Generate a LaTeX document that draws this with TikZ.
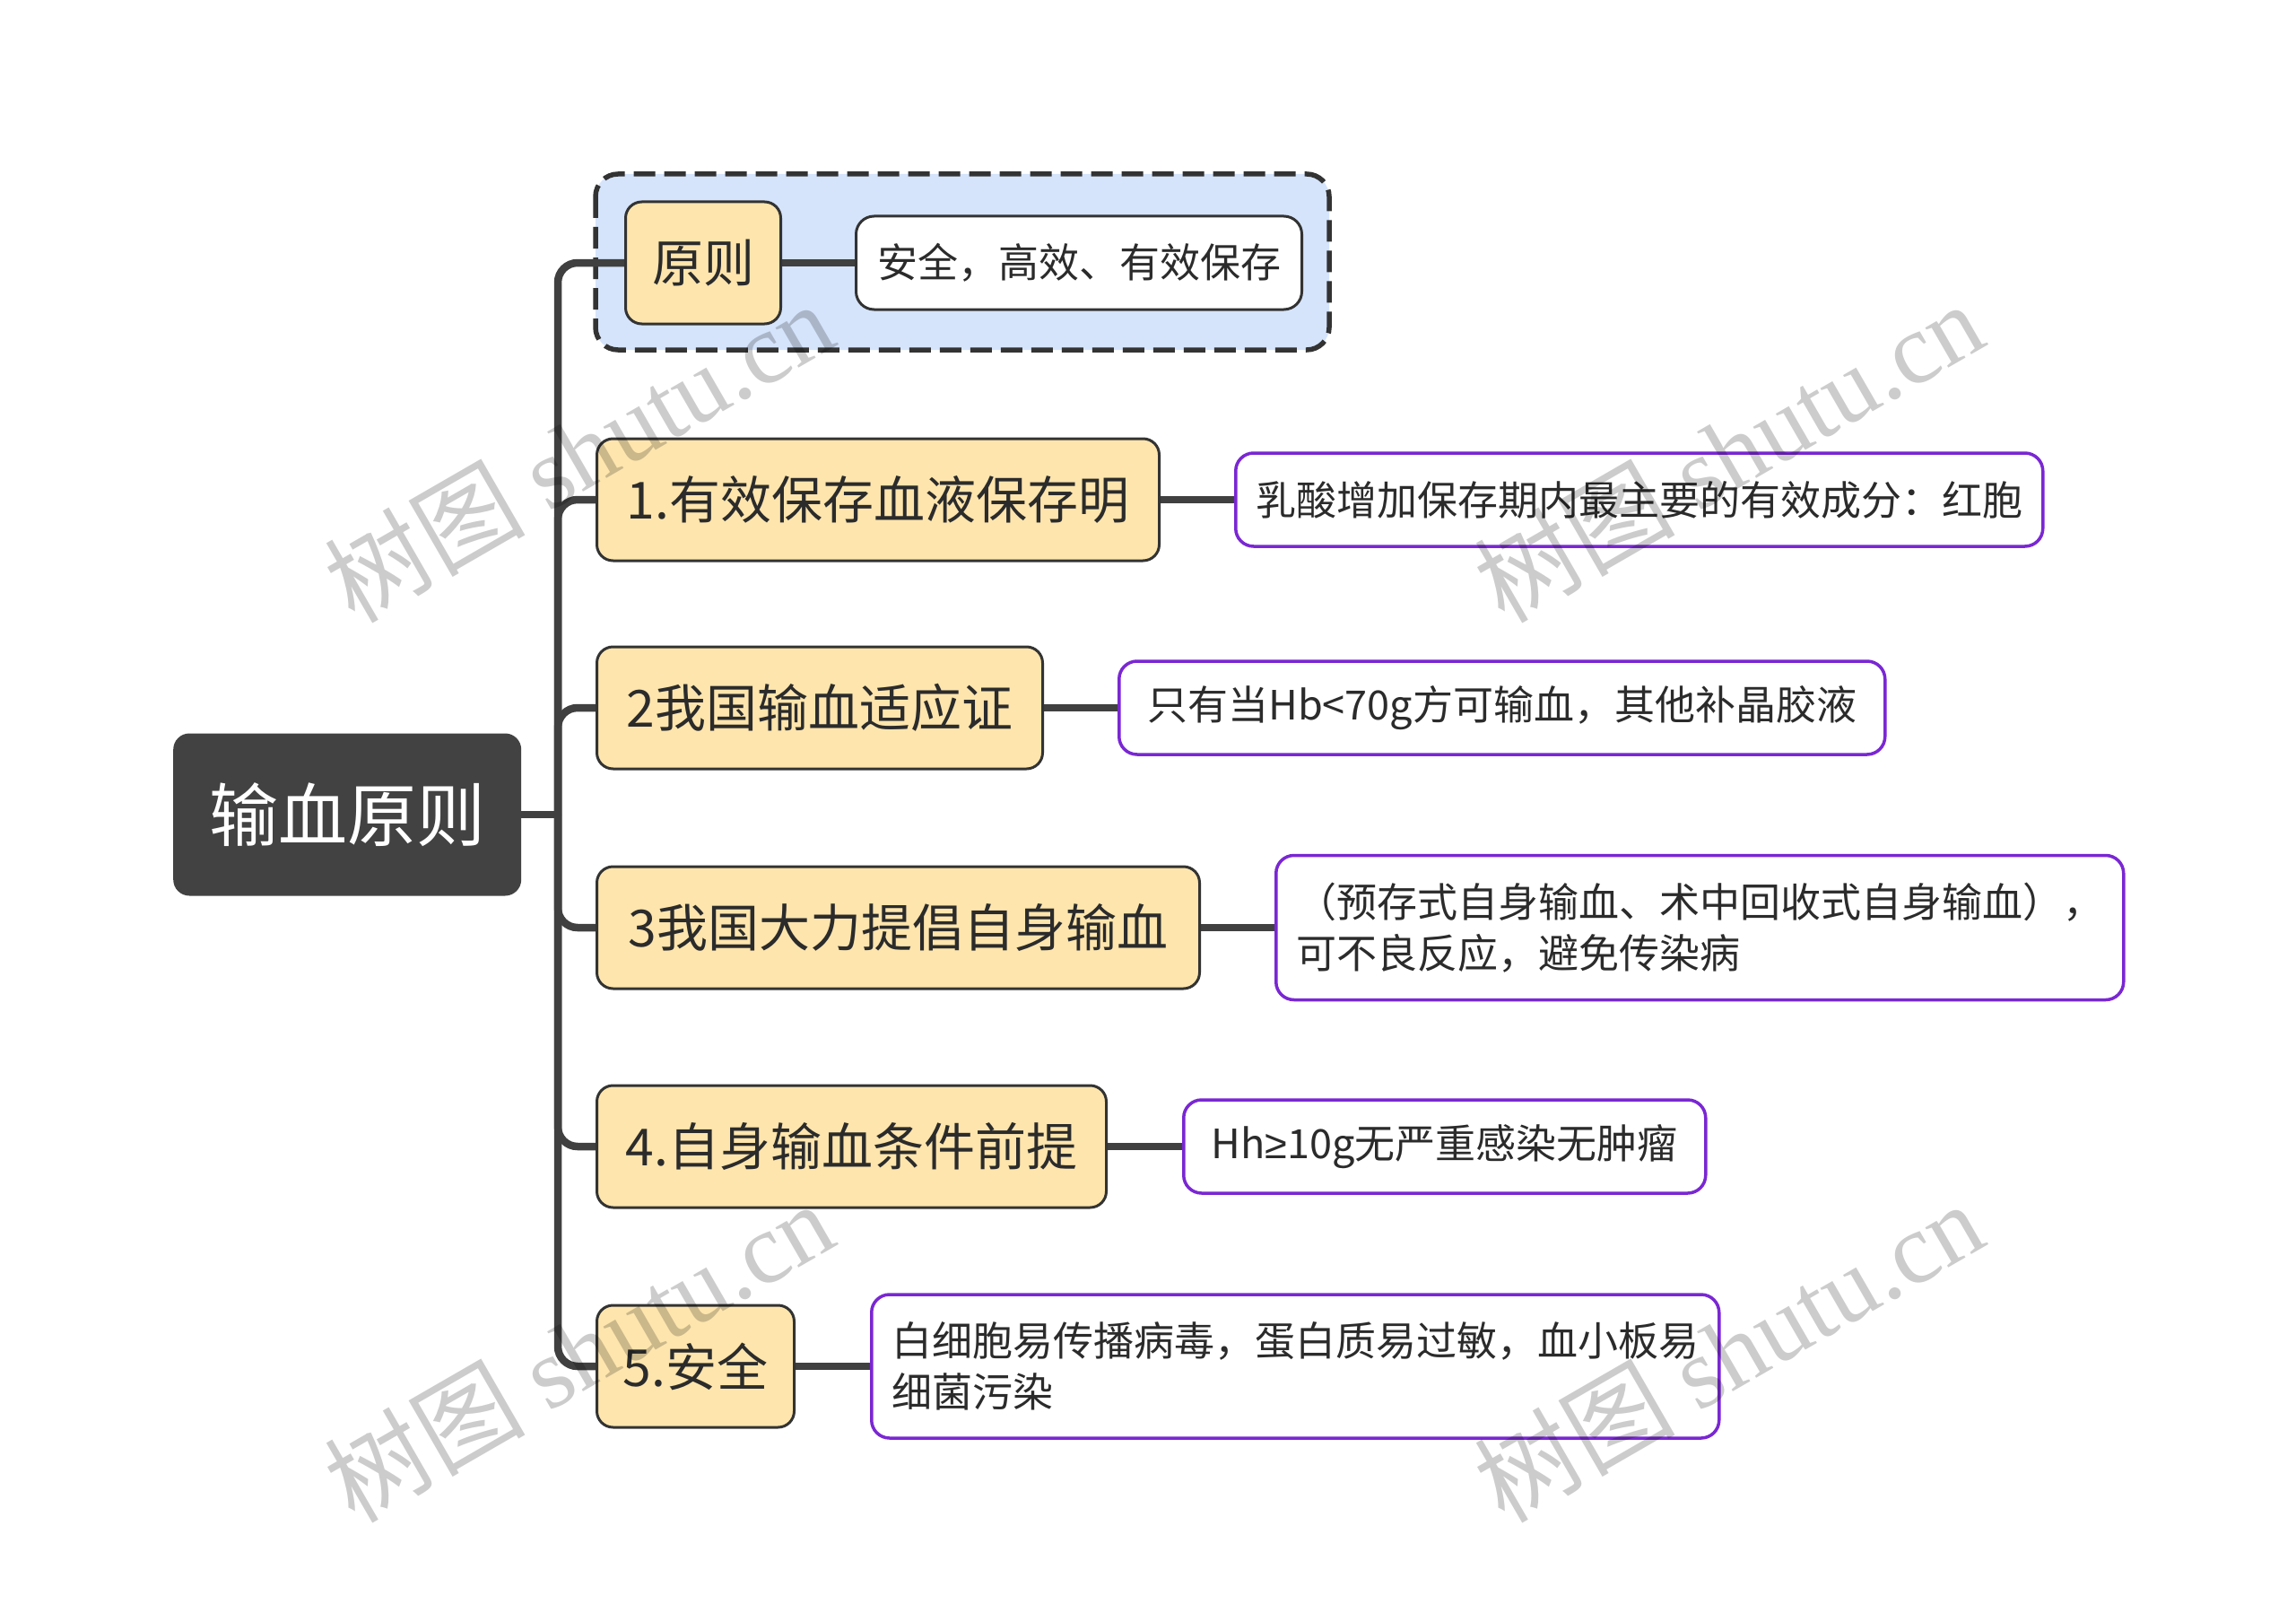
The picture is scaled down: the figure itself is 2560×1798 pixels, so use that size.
\documentclass[tikz,border=0pt]{standalone}
\usepackage{fontspec}
\setmainfont{Noto Sans CJK SC}
\newfontfamily\wmserif{Liberation Serif}
\newfontfamily\symfnt{Liberation Sans}
\usetikzlibrary{backgrounds}
\definecolor{rootc}{HTML}{424242}
\definecolor{linec}{HTML}{404040}
\definecolor{borderc}{HTML}{333333}
\definecolor{childc}{HTML}{FDE5AD}
\definecolor{purplec}{HTML}{7A27D3}
\definecolor{framec}{HTML}{D5E4FB}
\definecolor{textc}{HTML}{2B2B2B}
\begin{document}
\begin{tikzpicture}[x=1pt,y=-1pt,
  rootbox/.style={rectangle, rounded corners=18pt, fill=rootc, text=white,
    font=\fontsize{77}{90}\selectfont, inner sep=0pt, minimum height=181pt, anchor=west},
  childbox/.style={rectangle, rounded corners=18pt, draw=borderc, line width=3pt,
    fill=childc, text=textc, font=\fontsize{57}{68}\selectfont, inner sep=0pt,
    minimum height=136pt, anchor=west},
  leafbox/.style={rectangle, rounded corners=20pt, draw=purplec, line width=3.5pt,
    fill=white, text=textc, font=\fontsize{45}{57}\selectfont, inner sep=0pt,
    minimum height=104pt, anchor=west, align=left},
  conn/.style={draw=linec, line width=8.5pt},
  frame/.style={draw=borderc, line width=5.5pt, fill=framec, rounded corners=25pt,
    dash pattern=on 24pt off 10pt},
  wm/.style={text=black, text opacity=0.2, font=\fontsize{112}{120}\selectfont, rotate=30, inner sep=0pt}
]
\useasboundingbox (0,0) rectangle (2560,1798);

% root
\node[rootbox, minimum width=388pt] (root) at (193,908) {输血原则};

% children
\node[childbox, minimum width=173pt] (c0) at (696,293) {原则};
\node[childbox, minimum width=627pt] (c1) at (664,557) {1.有效保存血液保存明};
\node[childbox, minimum width=497pt] (c2) at (664,789) {2我国输血适应证};
\node[childbox, minimum width=672pt] (c3) at (664,1034) {3我国大力提倡自身输血};
\node[childbox, minimum width=568pt] (c4) at (664,1278) {4.自身输血条件前提};
\node[childbox, minimum width=220pt] (c5) at (664,1523) {5.安全};

% leaves
\node[leafbox, draw=borderc, line width=3pt, minimum width=497pt] (l0) at (953,293) {安全，高效、有效保存};
\node[leafbox, minimum width=900pt] (l1) at (1376,557) {乳酸增加保存期内最主要的有效成分：红胞};
\node[leafbox, minimum width=854pt] (l2) at (1246,789) {只有当Hb<70g方可输血，其他补晶胶液};
\node[leafbox, minimum width=945pt, minimum height=161pt] (l3) at (1421,1034) {（预存式自身输血、术中回收式自身输血），\\可不良反应，避免传染病};
\node[leafbox, minimum width=582pt] (l4) at (1318,1278) {Hh{\symfnt ≥}10g无严重感染无肿瘤};
\node[leafbox, minimum width=945pt, minimum height=160pt] (l5) at (970,1523) {白细胞易传播病毒，蛋白质易过敏，血小板易\\细菌污染};

\coordinate (trunk) at (622,908);

\begin{scope}[on background layer]
  \draw[frame] (664,194) rectangle (1482,390);
  \draw[conn] (root.east) -- (trunk);
  \foreach \c in {c0,c1,c2,c3,c4,c5}
    \draw[conn, rounded corners=22pt] (trunk) |- (\c.west);
  \foreach \a/\b in {c0/l0,c1/l1,c2/l2,c3/l3,c4/l4,c5/l5}
    \draw[conn] (\a.east) -- (\b.west);
\end{scope}

% watermarks
\node[wm] (wm1) at (645,503) {树图 {\wmserif shutu.cn}};
\node[wm] (wm2) at (1927,503) {树图 {\wmserif shutu.cn}};
\node[wm] (wm3) at (645,1506) {树图 {\wmserif shutu.cn}};
\node[wm] (wm4) at (1927,1506) {树图 {\wmserif shutu.cn}};
\end{tikzpicture}
\end{document}
